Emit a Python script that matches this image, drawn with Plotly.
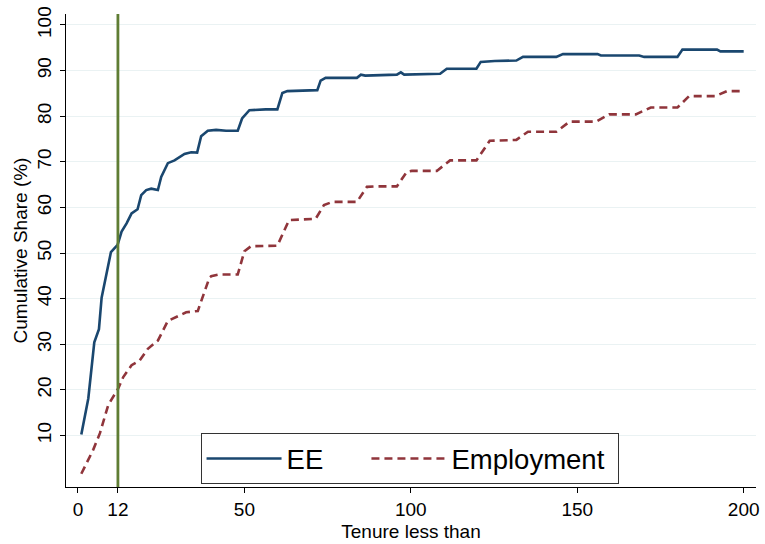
import plotly.graph_objects as go

# EE cumulative share
ee_x = [1, 3.1, 4.9, 6.3, 7.1, 9.9, 11.9, 13.1, 14.6, 16.1, 17.9, 19.0, 20.5, 22.0, 24.0, 25.0,
        27.0, 29.0, 32.0, 34.0, 35.8, 37.0, 39.0, 41.5, 44.5, 48.0, 49.3, 51.5, 56.4, 59.9,
        61.4, 62.9, 71.9, 72.9, 74.4, 83.8, 85.0, 86.3, 95.8, 97.0, 98.0, 108.8, 110.8, 119.7,
        121.0, 125.2, 131.7, 133.7, 143.7, 145.7, 156.1, 157.1, 168.6, 170.1, 180.1, 181.6,
        192.0, 193.0, 200]
ee_y = [10.2, 18.1, 30.4, 33.3, 40.2, 50.2, 51.8, 54.7, 56.5, 58.7, 59.6, 62.7, 63.8, 64.1, 63.8, 66.7,
        69.7, 70.3, 71.7, 72.1, 72.0, 75.6, 76.8, 77.0, 76.8, 76.8, 79.5, 81.3, 81.5, 81.5,
        85.1, 85.5, 85.7, 87.8, 88.4, 88.4, 89.1, 88.9, 89.1, 89.6, 89.1, 89.3, 90.4, 90.4,
        91.9, 92.1, 92.2, 93.0, 93.0, 93.6, 93.6, 93.3, 93.3, 93.0, 93.0, 94.6,
        94.6, 94.2, 94.2]

# Employment cumulative share
emp_x = [1, 4.6, 6.6, 9.1, 12.1, 13.6, 16.1, 18.5, 21.0, 24.0, 27.0, 29.5, 32.5, 36.0, 37.5,
         39.5, 40.0, 42.5, 48.0, 50.0, 52.0, 59.9, 61.4, 63.4, 71.4, 73.9, 76.4, 83.8, 86.8,
         89.3, 95.8, 98.8, 100.3, 107.8, 111.8, 119.7, 123.7, 131.7, 135.2, 143.7, 147.7,
         155.6, 159.6, 167.6, 172.1, 180.1, 183.6, 191.5, 195.0, 200]
emp_y = [1.6, 6.9, 10.5, 16.7, 20.3, 22.8, 25.4, 26.4, 29.0, 30.8, 35.1, 35.9, 37.0, 37.3, 40.6,
         44.6, 44.9, 45.3, 45.3, 50.4, 51.5, 51.6, 54.0, 57.2, 57.5, 60.5, 61.2, 61.2, 64.5,
         64.6, 64.6, 67.8, 68.0, 68.0, 70.3, 70.3, 74.6, 74.8, 76.6, 76.6, 78.8,
         78.8, 80.4, 80.4, 81.9, 81.9, 84.4, 84.4, 85.5, 85.5]

series_names = ["EE", "Employment"]
cutoff = 12
x_ticks = [0, 12, 50, 100, 150, 200]
y_ticks = [10, 20, 30, 40, 50, 60, 70, 80, 90, 100]

FONT = "Liberation Sans, Arial, Helvetica, sans-serif"
NB = "\u00a0"

fig = go.Figure()
fig.add_trace(go.Scatter(x=ee_x, y=ee_y, mode="lines", name=series_names[0] + NB * 5,
                         line=dict(color="#1a476f", width=2.6)))
fig.add_trace(go.Scatter(x=emp_x, y=emp_y, mode="lines", name=series_names[1] + NB,
                         line=dict(color="#90353b", width=2.6, dash="8px,5px")))

fig.add_shape(type="line", xref="x", yref="paper", x0=cutoff, x1=cutoff, y0=0, y1=1,
              line=dict(color="#5f7d34", width=2.8), layer="above")

fig.update_layout(
    width=765, height=544,
    margin=dict(l=66, r=6, t=14, b=53),
    paper_bgcolor="white", plot_bgcolor="white",
    font=dict(family=FONT, color="black", size=19),
    showlegend=True,
    legend=dict(orientation="h", x=0.195, y=0.006, xanchor="left", yanchor="bottom",
                bordercolor="#333333", borderwidth=1, bgcolor="white",
                font=dict(size=27.5, family=FONT), itemwidth=75, tracegroupgap=0),
    xaxis=dict(range=[-3.6, 203.7], tickvals=x_ticks, ticktext=[str(v) for v in x_ticks],
               showgrid=False, zeroline=False, showline=True, linecolor="black", linewidth=1.2,
               ticks="outside", ticklen=5, tickcolor="black", tickwidth=1,
               tickfont=dict(size=19),
               title=dict(text="Tenure less than", font=dict(size=19), standoff=5)),
    yaxis=dict(range=[-1.3, 102.4], tickvals=y_ticks, ticktext=[str(v) for v in y_ticks],
               showgrid=True, gridcolor="#eaf2f3", gridwidth=1.3, zeroline=False,
               showline=True, linecolor="black", linewidth=1.2,
               ticks="outside", ticklen=5, tickcolor="black", tickwidth=1,
               tickangle=-90, tickfont=dict(size=19), ticklabelstandoff=1,
               title=dict(text="Cumulative Share (%)", font=dict(size=19), standoff=1)),
)

fig.write_html("out.html")
